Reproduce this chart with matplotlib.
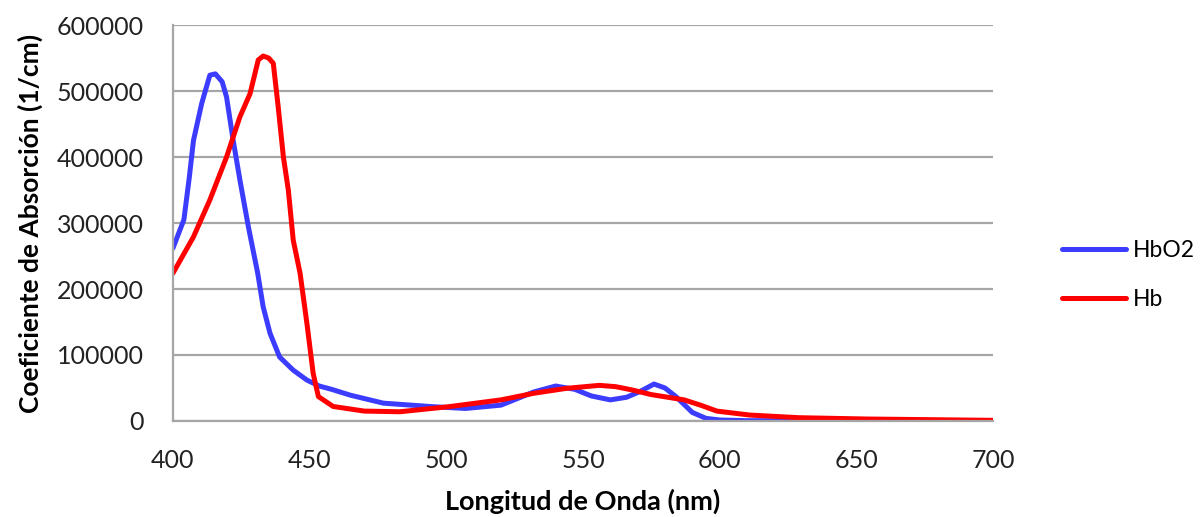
import matplotlib.pyplot as plt

# Espectros de absorción de la hemoglobina oxigenada y desoxigenada
wl_hbo2 = [400, 404, 406, 407.5, 410.5, 413.5, 415.5, 418, 419.6, 422, 424.5, 427.6,
           431, 433, 435.5, 439, 444, 449, 453.5, 458, 465, 477, 495, 507, 520, 532,
           540, 547, 553, 560, 566, 571, 576, 580, 584, 590, 595, 600, 610, 650, 700]
hbo2 = [262000, 305000, 370000, 425000, 481000, 524000, 526000, 514000, 491000, 426000,
        365000, 294000, 224000, 173000, 133000, 97000, 77000, 62000, 53000, 48000, 39000,
        27000, 21700, 19000, 24000, 44000, 53000, 48000, 38000, 32000, 36000, 45000,
        56000, 50000, 37000, 13000, 4000, 1500, 500, 200, 100]

wl_hb = [400, 407.5, 413.5, 419.6, 424.5, 428.2, 431.2, 433, 435, 436.7, 438.5, 440.4,
         442.2, 444, 446.5, 449, 451.3, 453.2, 458.6, 470, 483, 501, 520, 532, 544, 556,
         562, 568, 575, 587, 593, 599, 611, 629, 654, 700]
hb = [224000, 279000, 335000, 400000, 461000, 496000, 547000, 553000, 550000, 542000,
      476000, 400000, 350000, 274000, 224000, 148000, 72000, 37000, 22000, 15000, 14000,
      21700, 32000, 42000, 49500, 54000, 52000, 47000, 40000, 32000, 24000, 15000, 9000,
      5000, 3000, 1000]

plt.rcParams['font.family'] = ['Lato', 'DejaVu Sans']

fig = plt.figure(figsize=(12.02, 5.17), dpi=100)
ax = fig.add_axes([0.1439, 0.1857, 0.6822, 0.7659])

ax.plot(wl_hbo2, hbo2, color='#3c3cff', linewidth=3.6, label='HbO2', solid_capstyle='round')
ax.plot(wl_hb, hb, color='#ff0000', linewidth=3.6, label='Hb', solid_capstyle='round')

ax.set_xlim(400, 700)
ax.set_ylim(0, 600000)
ax.set_xticks(range(400, 701, 50))
ax.set_yticks(range(0, 600001, 100000))
ax.tick_params(axis='both', length=0, labelsize=18, colors='#222222')
ax.tick_params(axis='x', pad=20)
ax.tick_params(axis='y', pad=21)
ax.yaxis.grid(True, color='#a6a6a6', linewidth=1.6)
ax.set_axisbelow(True)
for s in ['top', 'right']:
    ax.spines[s].set_visible(False)
for s in ['left', 'bottom']:
    ax.spines[s].set_color('#a6a6a6')
    ax.spines[s].set_linewidth(1.6)

ax.set_xlabel('Longitud de Onda (nm)', fontsize=19.5, fontweight='bold', labelpad=12)
ax.set_ylabel('Coeficiente de Absorción (1/cm)', fontsize=19, fontweight='bold', labelpad=10)

# Leyenda a la derecha del gráfico
fig.legend(loc='center left', bbox_to_anchor=(0.874, 0.468), frameon=False, borderpad=0,
           fontsize=16.5, handlelength=2.8, labelspacing=1.25, handletextpad=0.3)

fig.savefig('out.png', dpi=100)
